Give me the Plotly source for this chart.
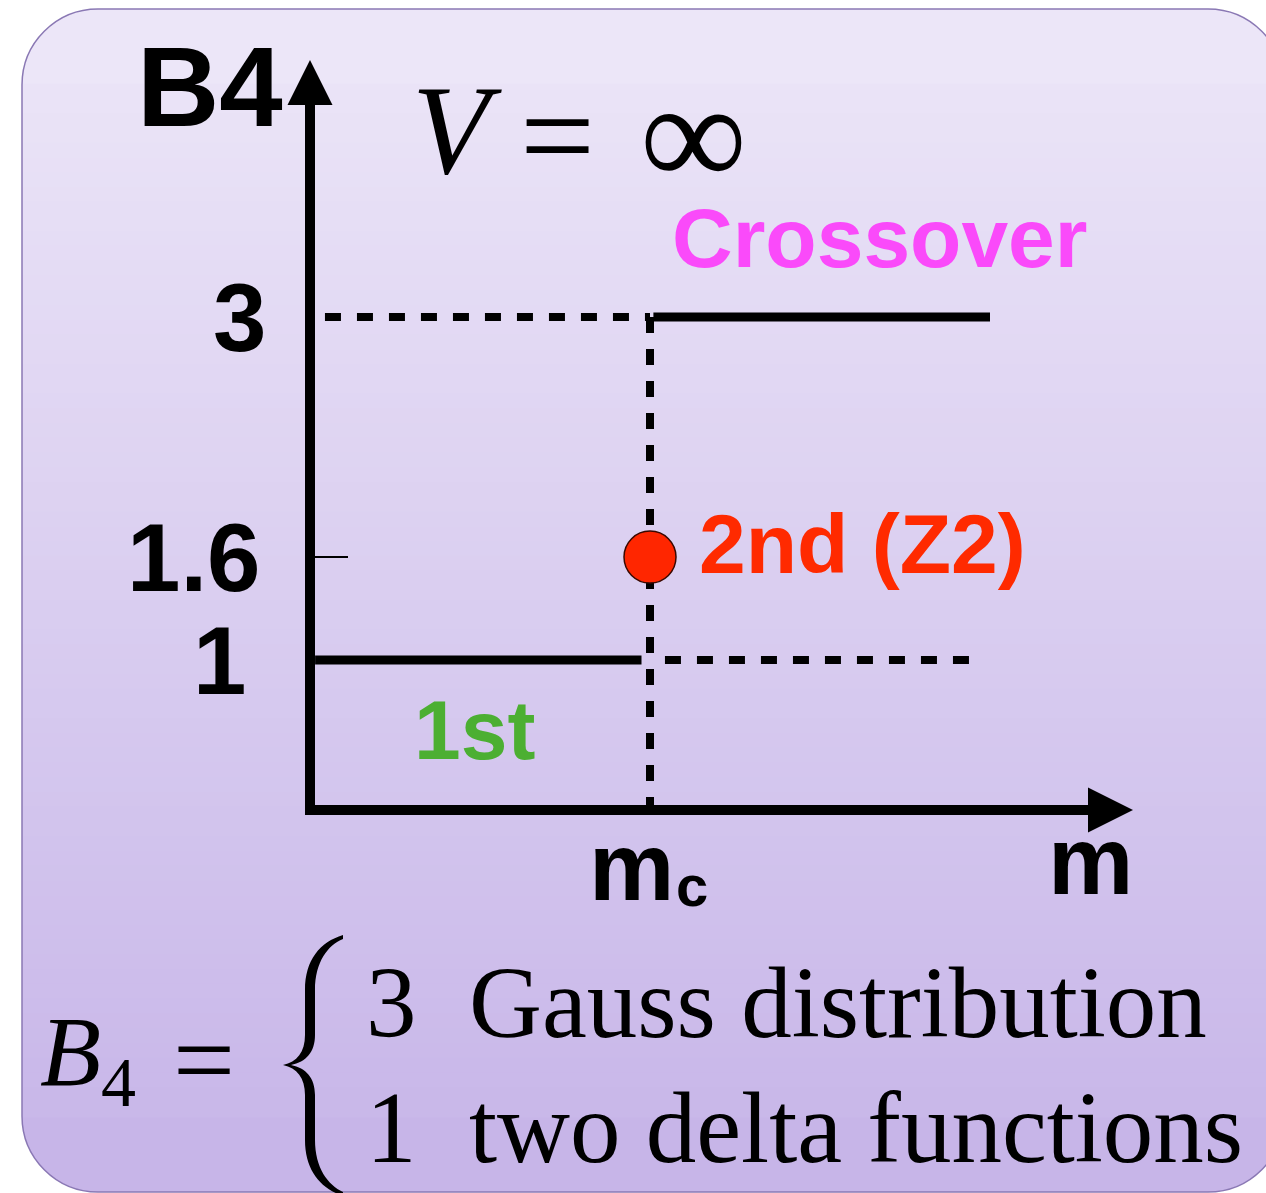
import plotly.graph_objects as go

# schematic values (m in units of m_c, B4 levels)
m_c = 1.0
first_x = [0.015, 0.975]
first_y = [1.0, 1.0]
cross_x = [1.01, 2.0]
cross_y = [3.0, 3.0]
guide3_x = [0.044, 1.0]
guide3_y = [3.0, 3.0]
guide1_x = [1.044, 1.94]
guide1_y = [1.0, 1.0]
vguide_x = [1.0, 1.0]
vguide_y = [3.0, 0.14]
z2_x = [1.0]
z2_y = [1.6]
tick_vals = [3.0, 1.6, 1.0]
tick_text = ["3", "1.6", "1"]

W, H = 1266, 1193


# pixel -> data helpers (axes are hidden, this is just for placing decorations)
def X(px):
    return (px - 310) / 340.0


def Y(py):
    return 3 - (py - 317) / 171.5


def pix_path(cmds):
    s = ""
    for cmd, ps in cmds:
        s += cmd + " ".join("%.5f,%.5f" % (X(a), Y(b)) for a, b in ps) + " "
    return s + "Z"


def rr_path(x0, y0, x1, y1, r):
    k = 0.5523 * r
    return pix_path([
        ("M", [(x0 + r, y0)]),
        ("L", [(x1 - r, y0)]),
        ("C", [(x1 - r + k, y0), (x1, y0 + r - k), (x1, y0 + r)]),
        ("L", [(x1, y1 - r)]),
        ("C", [(x1, y1 - r + k), (x1 - r + k, y1), (x1 - r, y1)]),
        ("L", [(x0 + r, y1)]),
        ("C", [(x0 + r - k, y1), (x0, y1 - r + k), (x0, y1 - r)]),
        ("L", [(x0, y0 + r)]),
        ("C", [(x0, y0 + r - k), (x0 + r - k, y0), (x0 + r, y0)]),
    ])


top_col = (237, 231, 248)
bot_col = (198, 180, 232)


def grad(py):
    t = (py - 9) / (1192 - 9)
    return "rgb(%d,%d,%d)" % tuple(round(a + (b - a) * t) for a, b in zip(top_col, bot_col))


shapes = []
# rounded lavender panel with vertical gradient
shapes.append(dict(type="path", path=rr_path(22, 9, 1284, 1192, 76), fillcolor=grad(40),
                   line=dict(width=0), layer="below"))
shapes.append(dict(type="path", path=rr_path(22, 600, 1284, 1192, 76), fillcolor=grad(1160),
                   line=dict(width=0), layer="below"))
n = 70
y_a, y_b = 84, 1117
for i in range(n):
    s0 = y_a + (y_b - y_a) * i / n
    s1 = y_a + (y_b - y_a) * (i + 1) / n
    shapes.append(dict(type="rect", x0=X(22), x1=X(1290), y0=Y(s0 - 0.5), y1=Y(s1 + 0.5),
                       fillcolor=grad((s0 + s1) / 2), line=dict(width=0), layer="below"))
shapes.append(dict(type="path", path=rr_path(22, 9, 1284, 1192, 76), fillcolor="rgba(0,0,0,0)",
                   line=dict(width=1.5, color="#8a78b4"), layer="below"))

# curly brace of the B4 definition
brace = [
    ("M", [(343, 935)]),
    ("C", [(320, 942), (305, 960), (305, 990)]),
    ("L", [(305, 1035)]),
    ("C", [(305, 1052), (297, 1062), (283, 1065)]),
    ("C", [(297, 1068), (305, 1078), (305, 1095)]),
    ("L", [(305, 1140)]),
    ("C", [(305, 1170), (320, 1188), (343, 1196)]),
    ("L", [(343, 1192)]),
    ("C", [(328, 1185), (315, 1168), (315, 1140)]),
    ("L", [(315, 1095)]),
    ("C", [(315, 1078), (306, 1068), (291, 1065)]),
    ("C", [(306, 1062), (315, 1052), (315, 1035)]),
    ("L", [(315, 990)]),
    ("C", [(315, 962), (328, 945), (343, 939)]),
]
shapes.append(dict(type="path", path=pix_path(brace), fillcolor="black", line=dict(width=0)))

fig = go.Figure()

dash = "16px,16px"
fig.add_trace(go.Scatter(x=[X(310), X(310), X(1100)], y=[Y(100), Y(810), Y(810)], mode="lines",
                         line=dict(color="black", width=10)))
fig.add_trace(go.Scatter(x=guide3_x, y=guide3_y, mode="lines", line=dict(color="black", width=8, dash=dash)))
fig.add_trace(go.Scatter(x=vguide_x, y=vguide_y, mode="lines", line=dict(color="black", width=8, dash=dash)))
fig.add_trace(go.Scatter(x=guide1_x, y=guide1_y, mode="lines", line=dict(color="black", width=8, dash=dash)))
fig.add_trace(go.Scatter(x=first_x, y=first_y, mode="lines", line=dict(color="black", width=9)))
fig.add_trace(go.Scatter(x=cross_x, y=cross_y, mode="lines", line=dict(color="black", width=9)))
fig.add_trace(go.Scatter(x=[X(315), X(348)], y=[z2_y[0], z2_y[0]], mode="lines",
                         line=dict(color="black", width=2)))
fig.add_trace(go.Scatter(x=z2_x, y=z2_y, mode="markers",
                         marker=dict(size=52, color="#ff2600", line=dict(color="#3a0800", width=1.5))))

sans = "Liberation Sans, Arial, sans-serif"
serif = "Liberation Serif, Times New Roman, serif"
ann = []


def label(text, px, py, size, color="black", family=sans, xanchor="center"):
    ann.append(dict(text=text, x=X(px), y=Y(py), xref="x", yref="y", showarrow=False,
                    xanchor=xanchor, yanchor="middle",
                    font=dict(family=family, size=size, color=color)))


# axis arrows
ann.append(dict(x=X(1133), y=Y(810), ax=X(305), ay=Y(810), xref="x", yref="y", axref="x", ayref="y",
                text="", showarrow=True, arrowhead=2, arrowsize=1.0, arrowwidth=9, arrowcolor="black"))
ann.append(dict(x=X(310), y=Y(60), ax=X(310), ay=Y(815), xref="x", yref="y", axref="x", ayref="y",
                text="", showarrow=True, arrowhead=2, arrowsize=1.0, arrowwidth=9, arrowcolor="black"))

label("<b>B4</b>", 210, 86, 114)
label("<i>V</i>", 410, 130, 127, family=serif, xanchor="left")
label("=", 557, 136, 133, family=serif)
label("∞", 693, 135, 150, family=serif)
label("<b>Crossover</b>", 880, 238, 84, color="#fa4afa")
for v, t, right in zip(tick_vals, tick_text, [268, 262, 248]):
    ann.append(dict(text="<b>%s</b>" % t, x=X(right), y=v, xref="x", yref="y", showarrow=False,
                    xanchor="right", yanchor="middle", font=dict(family=sans, size=96, color="black")))
label("<b>2nd (Z2)</b>", 697, 544, 84, color="#ff2a00", xanchor="left")
label("<b>1st</b>", 412, 730, 84, color="#4caf32", xanchor="left")
label("<b>m</b>", 587, 866, 96, xanchor="left")
label("<b>c</b>", 674, 885, 58, xanchor="left")
label("<b>m</b>", 1046, 860, 96, xanchor="left")
label("<i>B</i><sub>4</sub>", 38, 1058, 100, family=serif, xanchor="left")
label("=", 204, 1060, 110, family=serif)
label("3", 364, 1003, 101, family=serif, xanchor="left")
label("Gauss distribution", 467, 1003, 101, family=serif, xanchor="left")
label("1", 364, 1128, 101, family=serif, xanchor="left")
label("two delta functions", 467, 1128, 101, family=serif, xanchor="left")

fig.update_layout(
    width=W, height=H, autosize=False,
    margin=dict(l=0, r=0, t=0, b=0),
    paper_bgcolor="white", plot_bgcolor="white",
    showlegend=False,
    xaxis=dict(range=[X(0), X(W)], visible=False, fixedrange=True),
    yaxis=dict(range=[Y(H), Y(0)], visible=False, fixedrange=True),
    shapes=shapes, annotations=ann,
)

fig.write_html("out.html", config={"displayModeBar": False},
               post_script="document.body.style.margin='0';document.body.style.overflow='hidden';")
